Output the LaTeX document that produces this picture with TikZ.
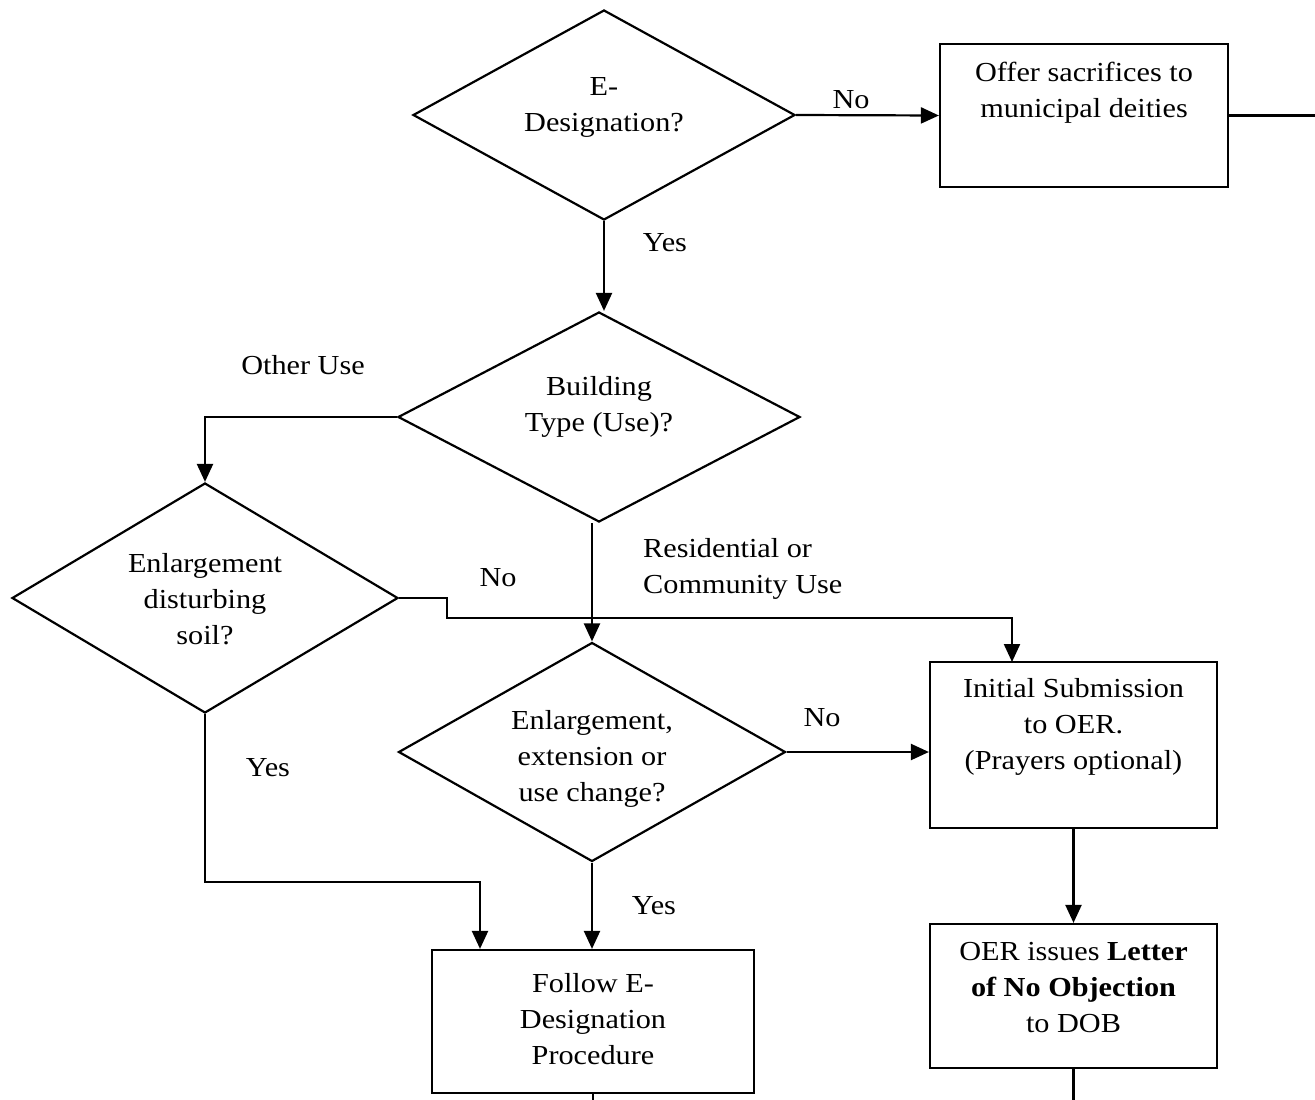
\documentclass[tikz,border=0pt]{standalone}
\usepackage{fontspec}
\setmainfont[FakeStretch=1.1]{Liberation Serif}
\usetikzlibrary{shapes.geometric,arrows.meta}
\begin{document}
\begin{tikzpicture}[x=1pt,y=-1pt,
  every node/.style={font=\fontsize{27.5}{36}\selectfont},
  dia/.style={draw,diamond,line width=2.2pt,inner sep=0pt},
  box/.style={draw,rectangle,line width=2.2pt,inner sep=0pt},
  txt/.style={align=center,inner sep=0pt},
  lbl/.style={inner sep=0pt},
  conn/.style={line width=2.2pt},
  arr/.style={conn,-{Triangle[length=18pt,width=16pt]}}]
\useasboundingbox[fill=white] (0,0) rectangle (1315,1100);
% decisions
\node[dia,minimum width=382pt,minimum height=210pt] (d1) at (604,115) {};
\node[txt] (d1t) at (604,107) {E-\\Designation?};
\node[dia,minimum width=402pt,minimum height=210pt] (d2) at (599,417) {};
\node[txt] (d2t) at (599,407) {Building\\Type (Use)?};
\node[dia,minimum width=386pt,minimum height=230pt] (d3) at (205,598) {};
\node[txt] (d3t) at (205,599) {Enlargement\\disturbing\\soil?};
\node[dia,minimum width=387pt,minimum height=219pt] (d4) at (592,752) {};
\node[txt] (d4t) at (592,759) {Enlargement,\\extension or\\use change?};
% boxes
\node[box,minimum width=288pt,minimum height=143pt] (offer) at (1084,115.5) {};
\node[txt] (offert) at (1084,93) {Offer sacrifices to\\municipal deities};
\node[box,minimum width=287pt,minimum height=166pt] (init) at (1073.5,745) {};
\node[txt] (initt) at (1073.5,727) {Initial Submission\\to OER.\\(Prayers optional)};
\node[box,minimum width=287pt,minimum height=144pt] (oer) at (1073.5,996) {};
\node[txt] (oert) at (1073.5,988) {OER issues \textbf{Letter}\\\textbf{of No Objection}\\to DOB};
\node[box,minimum width=322pt,minimum height=143pt] (follow) at (593,1021.5) {};
\node[txt] (followt) at (593,1019) {Follow E-\\Designation\\Procedure};
% coordinates
\coordinate (rEnd) at (1315,115.5);
\coordinate (j1) at (447,618);
\coordinate (ni) at (1012,662);
\coordinate (j2) at (480,882);
\coordinate (fEnd) at (593,1100);
\coordinate (oEnd) at (1073.5,1100);
% connectors
\draw[arr] (d1.east) -- (offer.west);
\draw[conn] (offer.east) -- (rEnd);
\draw[arr] (d1.south) -- (d1.south |- d2.north);
\draw[arr] (d2.west) -| (d3.north);
\draw[arr] (d4.north |- d2.south) -- (d4.north);
\draw[arr] (d3.east) -| (j1) -| (ni);
\draw[arr] (d4.east) -- (d4.east -| init.west);
\draw[arr] (d4.south) -- (d4.south |- follow.north);
\draw[arr] (d3.south) |- (j2) -- (j2 |- follow.north);
\draw[arr] (init.south) -- (oer.north);
\draw[conn] (follow.south) -- (fEnd);
\draw[conn] (oer.south) -- (oEnd);
% labels
\node[lbl] (lNo1) at (851,100) {No};
\node[lbl] (lYes1) at (665,243) {Yes};
\node[lbl] (lOther) at (303,365) {Other Use};
\node[lbl,align=left,anchor=west] (lRes) at (643,569) {Residential or\\Community Use};
\node[lbl] (lNo2) at (498,578) {No};
\node[lbl] (lNo3) at (822,718) {No};
\node[lbl] (lYes2) at (268,768) {Yes};
\node[lbl] (lYes3) at (654,906) {Yes};
\end{tikzpicture}
\end{document}
